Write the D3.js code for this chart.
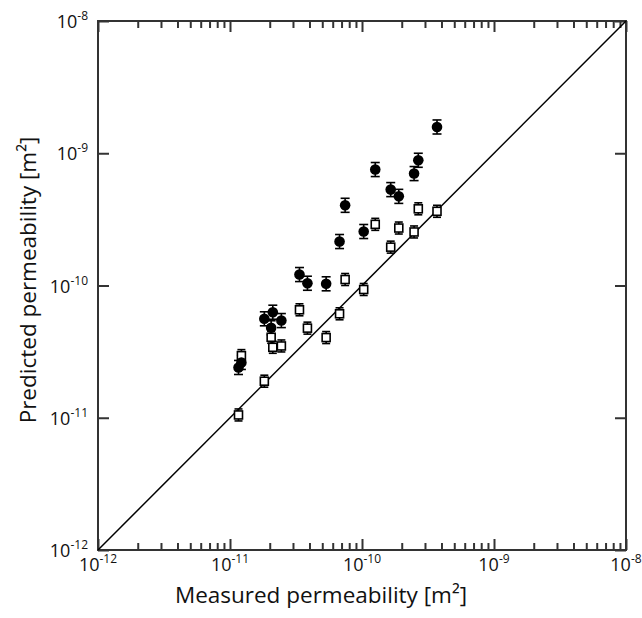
<!DOCTYPE html>
<html>
<head>
<meta charset="utf-8">
<script src="https://cdn.jsdelivr.net/npm/d3@7"></script>
<style>
  body { margin: 0; background: #fff; }
  text { font-family: "Open Sans", "Noto Sans", sans-serif; fill: #111; }
</style>
</head>
<body>
<div id="chart-container"></div>
<script>
// measured permeability, shared by both predicted series [m^2]
const measured = [3.70e-10, 2.67e-10, 2.48e-10, 1.26e-10, 1.65e-10, 1.90e-10,
  7.45e-11, 1.03e-10, 6.76e-11, 3.36e-11, 3.86e-11, 5.35e-11,
  2.11e-11, 1.82e-11, 2.45e-11, 2.05e-11, 1.22e-11, 1.16e-11];
// predicted (filled circles)
const predictedA = [1.58e-9, 8.85e-10, 7.02e-10, 7.53e-10, 5.31e-10, 4.72e-10,
  4.04e-10, 2.56e-10, 2.15e-10, 1.21e-10, 1.04e-10, 1.03e-10,
  6.28e-11, 5.60e-11, 5.43e-11, 4.79e-11, 2.62e-11, 2.40e-11];
// predicted (open squares)
const predictedB = [3.64e-10, 3.80e-10, 2.54e-10, 2.90e-10, 1.95e-10, 2.72e-10,
  1.11e-10, 9.33e-11, 6.11e-11, 6.55e-11, 4.76e-11, 4.04e-11,
  3.41e-11, 1.89e-11, 3.49e-11, 4.06e-11, 2.95e-11, 1.05e-11];
const relErrA = 0.13;
const relErrB = 0.11;
const tickExps = [-12, -11, -10, -9, -8];
const xTitle = "Measured permeability [m\u00b2]";
const yTitle = "Predicted permeability [m\u00b2]";

const W = 642, H = 618;
const margin = { top: 21, right: 16, bottom: 68, left: 98 };
const width = W - margin.left - margin.right;
const height = H - margin.top - margin.bottom;

const svg = d3.select("#chart-container")
  .append("svg")
  .attr("width", W)
  .attr("height", H)
  .append("g")
  .attr("transform", `translate(${margin.left},${margin.top})`);

const x = d3.scaleLog().domain([1e-12, 1e-8]).range([0, width]);
const y = d3.scaleLog().domain([1e-12, 1e-8]).range([height, 0]);

const axisColor = "#333";

// minor ticks for top/bottom
const minorTicks = x.ticks(40).filter(v => {
  const e = Math.log10(v);
  return Math.abs(e - Math.round(e)) > 1e-6;
});
const majorVals = tickExps.map(e => Math.pow(10, e));

function frameAxis(g, axis) {
  g.call(axis);
  g.select(".domain").remove();
  g.selectAll(".tick line").attr("stroke", axisColor).attr("stroke-width", 2);
  g.selectAll(".tick text").remove();
}

// bottom
svg.append("g").attr("transform", `translate(0,${height})`)
  .call(g => frameAxis(g, d3.axisBottom(x).tickValues(minorTicks).tickSizeInner(-7)));
svg.append("g").attr("transform", `translate(0,${height})`)
  .call(g => frameAxis(g, d3.axisBottom(x).tickValues(majorVals).tickSizeInner(-11)));
// top
svg.append("g")
  .call(g => frameAxis(g, d3.axisTop(x).tickValues(minorTicks).tickSizeInner(-7)));
svg.append("g")
  .call(g => frameAxis(g, d3.axisTop(x).tickValues(majorVals).tickSizeInner(-11)));
// left / right, majors only
svg.append("g")
  .call(g => frameAxis(g, d3.axisLeft(y).tickValues(majorVals).tickSizeInner(-11)));
svg.append("g").attr("transform", `translate(${width},0)`)
  .call(g => frameAxis(g, d3.axisRight(y).tickValues(majorVals).tickSizeInner(-11)));

// frame
svg.append("rect")
  .attr("width", width).attr("height", height)
  .attr("fill", "none").attr("stroke", axisColor).attr("stroke-width", 2);

// tick labels
const xLab = svg.append("g").selectAll("text").data(tickExps).join("text")
  .attr("x", d => x(Math.pow(10, d)))
  .attr("y", height + 21)
  .attr("text-anchor", "middle")
  .attr("font-size", 18);
xLab.append("tspan").text("10");
xLab.append("tspan").attr("dy", -8).attr("font-size", 12).text(d => "-" + (-d));

const yLab = svg.append("g").selectAll("text").data(tickExps).join("text")
  .attr("x", -10)
  .attr("y", d => y(Math.pow(10, d)) + 7)
  .attr("text-anchor", "end")
  .attr("font-size", 18);
yLab.append("tspan").text("10");
yLab.append("tspan").attr("dy", -8).attr("font-size", 12).text(d => "-" + (-d));

// axis titles (the x title sits on the figure centre, not the plot centre)
svg.append("text")
  .attr("x", W / 2 - margin.left).attr("y", height + 53)
  .attr("text-anchor", "middle")
  .attr("font-size", 22.5)
  .text(xTitle);

svg.append("text")
  .attr("transform", "rotate(-90)")
  .attr("x", -(280 - margin.top)).attr("y", -62)
  .attr("text-anchor", "middle")
  .attr("font-size", 22.5)
  .text(yTitle);

// 1:1 line
svg.append("line")
  .attr("x1", x(1e-12)).attr("y1", y(1e-12))
  .attr("x2", x(1e-8)).attr("y2", y(1e-8))
  .attr("stroke", "#000").attr("stroke-width", 1.5);

// error bars
function errorBars(vals, rel, cap) {
  const g = svg.append("g").attr("stroke", "#000").attr("stroke-width", 1.6);
  const rows = measured.map((m, i) => ({ m, p: vals[i] }));
  g.selectAll("line.v").data(rows).join("line").attr("class", "v")
    .attr("x1", d => x(d.m)).attr("x2", d => x(d.m))
    .attr("y1", d => y(d.p * (1 + rel))).attr("y2", d => y(d.p / (1 + rel)));
  g.selectAll("line.t").data(rows).join("line").attr("class", "t")
    .attr("x1", d => x(d.m) - cap).attr("x2", d => x(d.m) + cap)
    .attr("y1", d => y(d.p * (1 + rel))).attr("y2", d => y(d.p * (1 + rel)));
  g.selectAll("line.b").data(rows).join("line").attr("class", "b")
    .attr("x1", d => x(d.m) - cap).attr("x2", d => x(d.m) + cap)
    .attr("y1", d => y(d.p / (1 + rel))).attr("y2", d => y(d.p / (1 + rel)));
}
errorBars(predictedB, relErrB, 4);
errorBars(predictedA, relErrA, 4.5);

// open squares
svg.append("g").selectAll("rect").data(measured).join("rect")
  .attr("x", (d, i) => x(d) - 4)
  .attr("y", (d, i) => y(predictedB[i]) - 4)
  .attr("width", 8).attr("height", 8)
  .attr("fill", "#fff").attr("stroke", "#000").attr("stroke-width", 1.6);

// filled circles
svg.append("g").selectAll("circle").data(measured).join("circle")
  .attr("cx", d => x(d))
  .attr("cy", (d, i) => y(predictedA[i]))
  .attr("r", 5.3)
  .attr("fill", "#000");
</script>
</body>
</html>
